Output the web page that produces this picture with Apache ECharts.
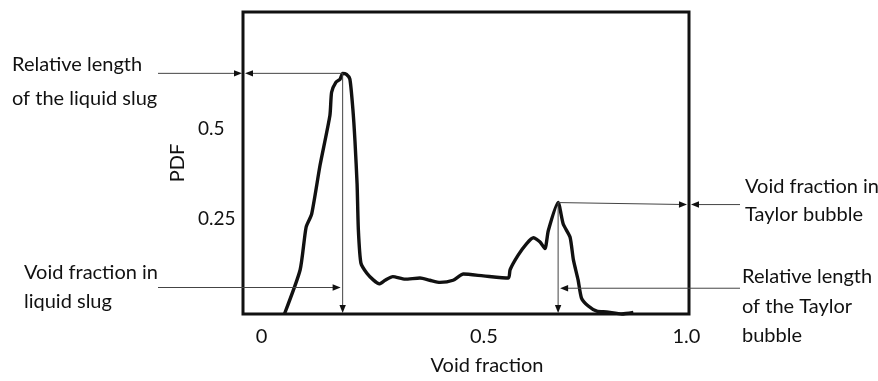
<!DOCTYPE html>
<html>
<head>
<meta charset="utf-8">
<script src="https://cdn.jsdelivr.net/npm/echarts@6/dist/echarts.min.js"></script>
<style>
  html, body { margin: 0; padding: 0; background: #fff; }
  #main { width: 878px; height: 381px; }
</style>
</head>
<body>
<div id="main"></div>
<script>
// PDF curve (void fraction, PDF)
var curveX = [0.054, 0.091, 0.105, 0.118, 0.138, 0.161, 0.165, 0.175, 0.185, 0.191, 0.200, 0.208,
  0.215, 0.220, 0.225, 0.228, 0.234, 0.248, 0.263, 0.277, 0.291, 0.309, 0.338, 0.373, 0.396,
  0.420, 0.451, 0.475, 0.522, 0.581, 0.585, 0.604, 0.624, 0.640, 0.655, 0.667, 0.675, 0.698,
  0.710, 0.726, 0.734, 0.745, 0.753, 0.769, 0.789, 0.812, 0.848, 0.875];
var curveY = [-0.011, 0.111, 0.228, 0.264, 0.400, 0.536, 0.600, 0.627, 0.636, 0.652, 0.649, 0.636,
  0.554, 0.465, 0.346, 0.220, 0.129, 0.101, 0.083, 0.072, 0.082, 0.092, 0.085, 0.088, 0.082,
  0.076, 0.082, 0.099, 0.094, 0.088, 0.111, 0.151, 0.183, 0.199, 0.188, 0.169, 0.219, 0.296,
  0.237, 0.201, 0.138, 0.083, 0.033, 0.011, -0.003, -0.005, -0.011, -0.007];

var xTicks = [0, 0.5, 1.0];
var xTickLabels = ['0', '{mid|0.5}', '1.0'];
var yTicks = [0.25, 0.5];
var yTickLabels = ['0.25', '0.5'];

// annotated points
var slugPeak = [0.191, 0.652];
var taylorPeak = [0.698, 0.296];
var slugLevel = 0.062;    // height of the "void fraction in liquid slug" arrow
var taylorLevel = 0.060;  // height of the "relative length of the Taylor bubble" arrow

var xMin = -0.0435, xMax = 1.006;
var yMin = -0.011, yMax = 0.821;

var FONT = 'Lato, "Open Sans", sans-serif';
var INK = '#111';

var chart = echarts.init(document.getElementById('main'));

chart.setOption({
  animation: false,
  backgroundColor: '#fff',
  grid: {
    left: 243, right: 189, top: 12, bottom: 63,
    show: true,
    borderColor: INK,
    borderWidth: 3
  },
  xAxis: {
    type: 'value',
    min: xMin,
    max: xMax,
    name: 'Void fraction',
    nameLocation: 'middle',
    nameGap: 42,
    nameTextStyle: { fontFamily: FONT, fontSize: 20, color: INK, padding: [0, 0, 0, 42] },
    axisLine: { show: false },
    axisTick: { show: false },
    splitLine: { show: false },
    axisLabel: {
      customValues: xTicks,
      margin: 13,
      fontFamily: FONT,
      fontSize: 20,
      color: INK,
      rich: { mid: { fontFamily: FONT, fontSize: 20, color: INK, padding: [0, 0, 0, 20] } },
      formatter: function (v) {
        var i = xTicks.indexOf(v);
        return i >= 0 ? xTickLabels[i] : '';
      }
    }
  },
  yAxis: {
    type: 'value',
    min: yMin,
    max: yMax,
    name: 'PDF',
    nameLocation: 'middle',
    nameGap: 51,
    nameRotate: 90,
    nameTextStyle: { fontFamily: FONT, fontSize: 20, color: INK },
    axisLine: { show: false },
    axisTick: { show: false },
    splitLine: { show: false },
    axisLabel: {
      customValues: yTicks,
      margin: 45,
      align: 'left',
      fontFamily: FONT,
      fontSize: 19,
      color: INK,
      formatter: function (v) {
        var i = yTicks.indexOf(v);
        return i >= 0 ? yTickLabels[i] : '';
      }
    }
  },
  series: [{
    type: 'line',
    data: curveX.map(function (x, i) { return [x, curveY[i]]; }),
    showSymbol: false,
    smooth: 0.2,
    clip: false,
    lineStyle: { color: INK, width: 3.4 }
  }]
});

// annotation arrows, placed from the data via the axes
var P = function (v) { return chart.convertToPixel({ gridIndex: 0 }, v); };
var boxL = P([xMin, 0])[0], boxR = P([xMax, 0])[0], boxB = P([0, yMin])[1];
var sp = P(slugPeak), tp = P(taylorPeak);
var slugY = P([0, slugLevel])[1], taylorY = P([0, taylorLevel])[1];

function arrow(x1, y1, x2, y2) {
  var dx = x2 - x1, dy = y2 - y1, len = Math.sqrt(dx * dx + dy * dy);
  var ux = dx / len, uy = dy / len, nx = -uy, ny = ux;
  var L = 8, W = 3.2;
  return [{
    type: 'line',
    shape: { x1: x1, y1: y1, x2: x2 - ux * 4, y2: y2 - uy * 4 },
    style: { stroke: '#444', lineWidth: 1 },
    z: 10
  }, {
    type: 'polygon',
    shape: { points: [[x2, y2], [x2 - ux * L + nx * W, y2 - uy * L + ny * W], [x2 - ux * L - nx * W, y2 - uy * L - ny * W]] },
    style: { fill: INK },
    z: 10
  }];
}

function label(x, y, txt, lh) {
  return {
    type: 'text',
    x: x, y: y,
    style: { text: txt, font: '20px ' + FONT, fill: INK, lineHeight: lh, textVerticalAlign: 'top' },
    z: 10
  };
}

var g = [];
g = g.concat(arrow(158, sp[1], boxL - 1, sp[1]));
g = g.concat(arrow(sp[0], sp[1], boxL + 2, sp[1]));
g = g.concat(arrow(158, slugY, sp[0] - 2, slugY));
g = g.concat(arrow(sp[0], sp[1], sp[0], boxB - 1));
g = g.concat(arrow(740, tp[1] + 2, boxR + 2, tp[1] + 2));
g = g.concat(arrow(tp[0], tp[1], boxR - 2, tp[1] + 2));
g = g.concat(arrow(740, taylorY, tp[0] + 2, taylorY));
g = g.concat(arrow(tp[0], tp[1], tp[0], boxB - 1));

g.push(label(12, 48, 'Relative length\nof the liquid slug', 34));
g.push(label(24, 258, 'Void fraction in\nliquid slug', 29));
g.push(label(745, 173, 'Void fraction in\nTaylor bubble', 28));
g.push(label(742, 262, 'Relative length\nof the Taylor\nbubble', 29.5));

chart.setOption({ graphic: g });
</script>
</body>
</html>
